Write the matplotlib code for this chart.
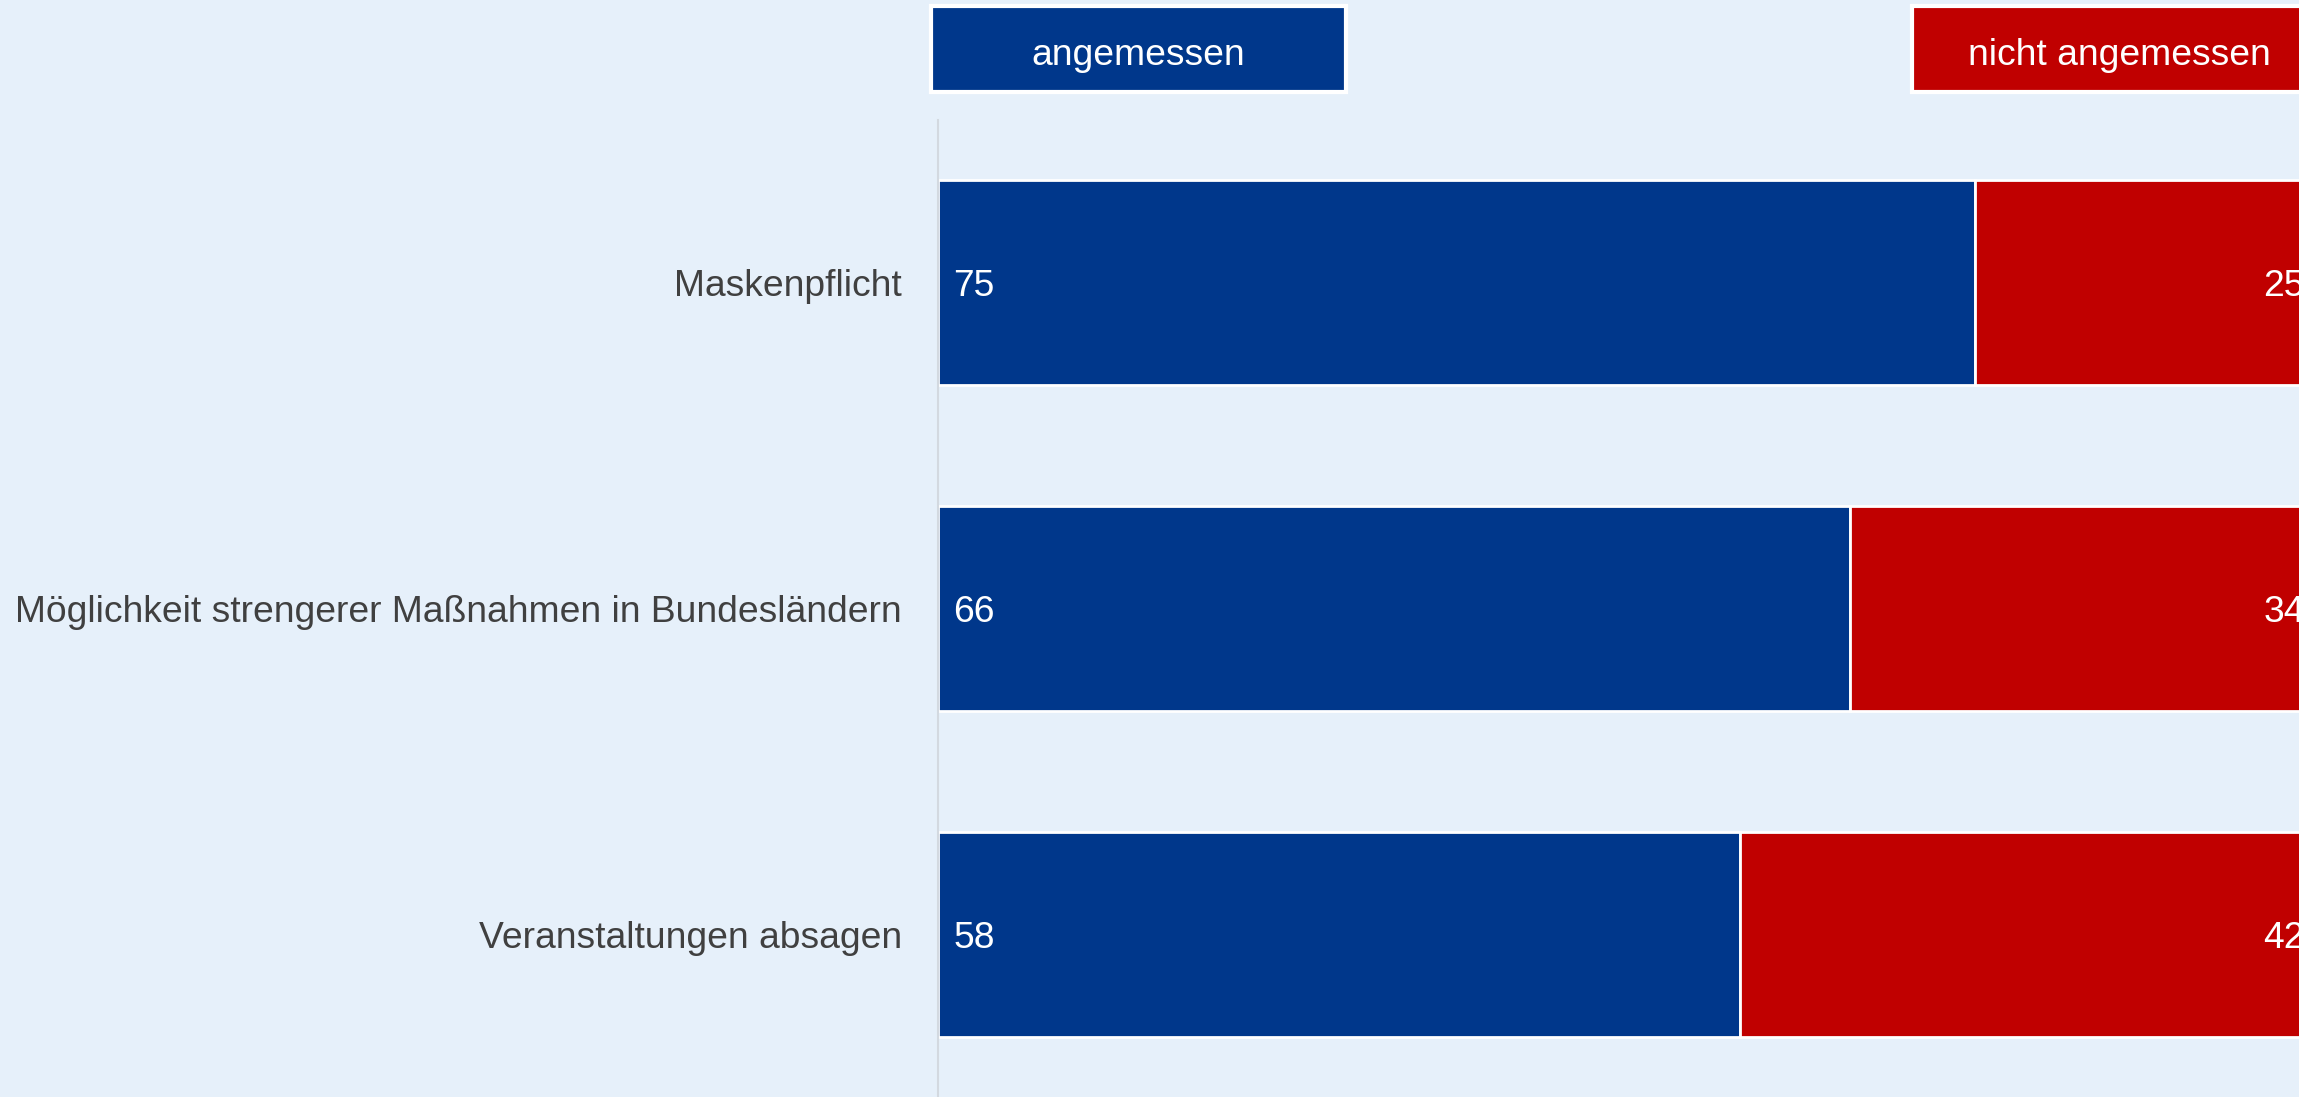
import matplotlib
matplotlib.use("Agg")
import matplotlib.pyplot as plt
from matplotlib.patches import Rectangle
from matplotlib.transforms import blended_transform_factory

categories = ["Maskenpflicht",
              "Möglichkeit strengerer Maßnahmen in Bundesländern",
              "Veranstaltungen absagen"]
angemessen = [75, 66, 58]
nicht_angemessen = [25, 34, 42]
series_names = ["angemessen", "nicht angemessen"]

BLUE = "#00378B"
RED = "#C00000"
BG = "#E6F0FA"
TXT = "#404040"
FS = 26.8

plt.rcParams["font.family"] = ["Liberation Sans", "DejaVu Sans"]

W, H = 2299, 1097
fig = plt.figure(figsize=(W / 100, H / 100), dpi=100, facecolor=BG)
left_px, right_px, top_px = 938, 2320, 120
ax = fig.add_axes([left_px / W, 0, (right_px - left_px) / W, (H - top_px) / H])
ax.set_facecolor(BG)

y = list(range(len(categories)))
ax.barh(y, angemessen, height=0.63, color=BLUE, edgecolor="white", linewidth=2)
ax.barh(y, nicht_angemessen, left=angemessen, height=0.63, color=RED,
        edgecolor="white", linewidth=2)

for i, (a, b) in enumerate(zip(angemessen, nicht_angemessen)):
    ax.annotate(str(a), (0, i), xytext=(11, 0), textcoords="offset points",
                ha="left", va="center_baseline", color="white", fontsize=FS)
    ax.annotate(str(b), (a + b, i), xytext=(-11, 0), textcoords="offset points",
                ha="right", va="center_baseline", color="white", fontsize=FS)

ax.set_xlim(0, 100)
ax.set_ylim(len(categories) - 0.5, -0.5)
ax.set_yticks(y)
ax.set_yticklabels(categories, fontsize=FS, color=TXT)
ax.tick_params(axis="y", length=0, pad=26)
ax.set_xticks([])
for s in ["top", "right", "bottom"]:
    ax.spines[s].set_visible(False)
ax.spines["left"].set_color("#D3D9E0")
ax.spines["left"].set_linewidth(1.5)

# legend boxes at the top
tr = blended_transform_factory(ax.transData, fig.transFigure)
box_y0 = 1 - 92 / H
box_h = 86 / H
for x0, name, col in [(-0.5, series_names[0], BLUE), (70.5, series_names[1], RED)]:
    r = Rectangle((x0, box_y0), 30, box_h, transform=tr, facecolor=col,
                  edgecolor="white", linewidth=3, clip_on=False)
    fig.add_artist(r)
    t = fig.text(0, 0, name, transform=tr, fontsize=FS, color="white",
                 ha="center", va="baseline")
    t.set_position((x0 + 15, 1 - 65 / H))

fig.savefig("out.png", dpi=100, facecolor=BG)
